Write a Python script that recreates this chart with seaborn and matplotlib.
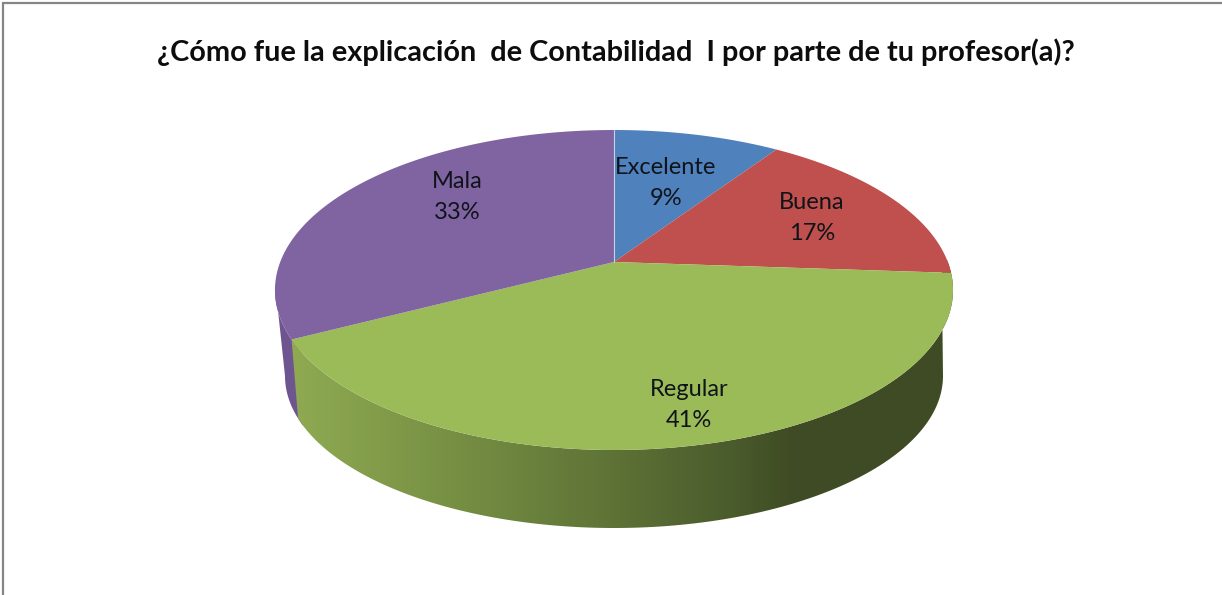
import numpy as np
import seaborn as sns
import matplotlib.pyplot as plt
from matplotlib.colors import LinearSegmentedColormap
from matplotlib.patches import Polygon

categories = ["Excelente", "Buena", "Regular", "Mala"]
percents = [9.4, 16.7, 41.3, 32.6]
title = "¿Cómo fue la explicación  de Contabilidad  I por parte de tu profesor(a)?"

sns.set_theme(style="white")
plt.rcParams['font.family'] = ['Lato', 'DejaVu Sans']
colors = sns.color_palette(["#4F81BD", "#C0504D", "#9BBB59", "#8064A2"])

# where the labels sit, pixels of the picture
label_xy = [(666, 183), (812, 218), (689, 405), (457, 197)]

# top face: unit circle seen in perspective
cx, cy = 614, 262
a, b, d = 333.8, 155.1, 0.175
# bottom face of the pie, plain ellipse
low_cy, low_a, low_b = 376, 329, 152


def top_pts(t):
    # t = degrees clockwise from 12 o'clock
    t = np.radians(t)
    X, Y = np.sin(t), np.cos(t)
    w = 1 + d * Y
    return cx + a * X / w, cy - b * Y / w


def low_pts(phi):
    phi = np.radians(phi)
    return cx + low_a * np.cos(phi), low_cy + low_b * np.sin(phi)


fig = plt.figure(figsize=(12.22, 5.95), dpi=100)
ax = fig.add_axes([0, 0, 1, 1])
ax.set_xlim(0, 1222)
ax.set_ylim(595, 0)
ax.axis("off")

edges = np.cumsum([0] + percents) / sum(percents) * 360

# corner where Regular meets Mala on the bottom face
ex, ey = top_pts(edges[3])
corner = 180 - np.degrees(np.arccos(np.clip((cx - (cx + (ex - cx) * 0.98)) / low_a, -1, 1)))

# side of Mala, runs a bit under Regular so no gap shows
up = np.linspace(edges[3] - 4, 262, 40)
lo = np.linspace(180, corner - 3, 40)
ux, uy = top_pts(up)
lx, ly = low_pts(lo)
side = np.column_stack([np.r_[ux, lx], np.r_[uy, ly]])
ax.add_patch(Polygon(side, closed=True, fc="#6F5590", ec="none", zorder=1))

# side of Regular, shaded from left to right
up = np.linspace(85, edges[3], 150)
lo = np.linspace(corner, 0, 150)
ux, uy = top_pts(up)
lx, ly = low_pts(lo)
side = np.column_stack([np.r_[ux, lx], np.r_[uy, ly]])
clip = Polygon(side, closed=True, fc="none", ec="none", transform=ax.transData)
ax.add_patch(clip)
shade = LinearSegmentedColormap.from_list("shade", [
    (0.0, "#90AB53"), (0.25, "#768F43"), (0.5, "#5C7035"),
    (0.66, "#4A5B2C"), (0.75, "#3F4B24"), (1.0, "#3F4B24")])
img = ax.imshow(np.linspace(0, 1, 680).reshape(1, -1), cmap=shade, aspect="auto",
                extent=(285, 965, 540, 260), zorder=2)
img.set_clip_path(clip)
ax.set_xlim(0, 1222)
ax.set_ylim(595, 0)

# top face slices
for i in range(len(percents)):
    t = np.linspace(edges[i], edges[i + 1], 120)
    x, y = top_pts(t)
    ax.fill(np.r_[cx, x], np.r_[cy, y], color=colors[i], lw=0, zorder=3)
    ax.text(label_xy[i][0], label_xy[i][1], f"{categories[i]}\n{percents[i]:.0f}%",
            ha="center", va="center", fontsize=17, color="#10141a",
            linespacing=1.55, zorder=5)

# thin light edge between Mala and Excelente
x0, y0 = top_pts(0)
ax.plot([cx, x0], [cy, y0], color="#C9D3E6", lw=0.8, zorder=4)

ax.text(616, 52, title, ha="center", va="center", fontsize=20.8, fontweight="bold", color="#0d0d0d")

# chart frame
ax.plot([2.5, 2.5, 1222], [595, 2.5, 2.5], color="#868686", lw=1.6, zorder=6, solid_joinstyle="miter")

fig.savefig("out.png", dpi=100)
